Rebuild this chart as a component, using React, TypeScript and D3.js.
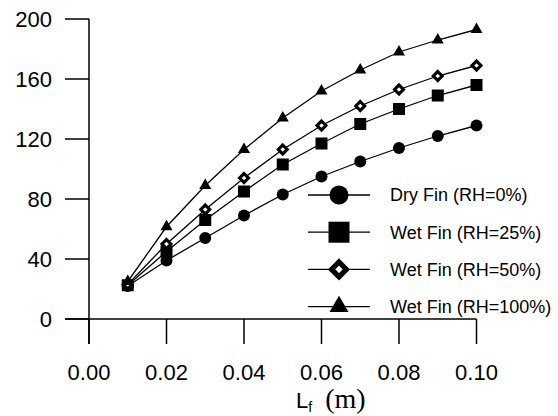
import * as d3 from "d3";

// chart size and margins
const width = 558;
const height = 416;
const marginLeft = 89;
const marginTop = 19;
const plotRight = 476.5;
const plotBottom = 319;

const lengths = [0.01, 0.02, 0.03, 0.04, 0.05, 0.06, 0.07, 0.08, 0.09, 0.1];
const dryFin = [22, 39, 54, 69, 83, 95, 105, 114, 122, 129];
const wetFin25 = [22.5, 45, 66, 85, 103, 117, 130, 140, 149, 156];
const wetFin50 = [23, 50, 73, 94, 113, 129, 142, 153, 162, 169];
const wetFin100 = [25, 61.5, 89, 113, 134, 152, 166, 178, 186, 193];

const xTicks = [0, 0.02, 0.04, 0.06, 0.08, 0.1];
const yTicks = [0, 40, 80, 120, 160, 200];

const seriesNames = ["Dry Fin (RH=0%)", "Wet Fin (RH=25%)", "Wet Fin (RH=50%)", "Wet Fin (RH=100%)"];
const seriesValues = [dryFin, wetFin25, wetFin50, wetFin100];
const seriesMarkers = ["circle", "square", "diamond", "triangle"];

const font = "'Liberation Sans', Arial, sans-serif";

// draws one marker centred at 0,0; s is its rough width
const Marker = ({ kind, s }: { kind: string; s: number }) => {
  if (kind === "circle") return <circle r={s / 2} fill="#000" />;
  if (kind === "square") return <rect x={-s / 2} y={-s / 2} width={s} height={s} fill="#000" />;
  if (kind === "diamond") {
    const h = s / 2 - s * 0.13;
    return (
      <path
        d={`M0,${-h}L${h},0L0,${h}L${-h},0Z`}
        fill="#fff"
        stroke="#000"
        strokeWidth={s * 0.26}
        strokeLinejoin="miter"
      />
    );
  }
  const tri = d3.symbol().type(d3.symbolTriangle).size((s * s * Math.sqrt(3)) / 4)();
  return <path d={tri ?? ""} fill="#000" />;
};

const App = () => {
  const x = d3.scaleLinear().domain([0, 0.1]).range([marginLeft, plotRight]);
  const y = d3.scaleLinear().domain([0, 200]).range([plotBottom, marginTop]);

  const line = d3
    .line<number>()
    .x((_, i) => x(lengths[i]))
    .y((d) => y(d));

  return (
    <svg
      width={width}
      height={height}
      style={{ position: "absolute", left: 0, top: 0, background: "#fff" }}
      fontFamily={font}
    >
      {/* axes */}
      <g stroke="#000" strokeWidth={1.5} fill="none">
        <line x1={marginLeft} x2={marginLeft} y1={marginTop} y2={plotBottom + 25} />
        <line x1={marginLeft - 24} x2={plotRight} y1={plotBottom} y2={plotBottom} />
        {yTicks.map((t) => (
          <line key={t} x1={marginLeft - 24} x2={marginLeft} y1={y(t)} y2={y(t)} />
        ))}
        {xTicks.map((t) => (
          <line key={t} x1={x(t)} x2={x(t)} y1={plotBottom} y2={plotBottom + 25} />
        ))}
      </g>
      <g fontSize={22} fill="#000">
        {yTicks.map((t) => (
          <text key={t} x={52} y={y(t)} dy="0.36em" textAnchor="end">
            {t}
          </text>
        ))}
        {xTicks.map((t) => (
          <text key={t} x={x(t)} y={380} textAnchor="middle">
            {d3.format(".2f")(t)}
          </text>
        ))}
      </g>
      <text x={296} y={408} fontSize={22} fill="#000">
        L
        <tspan fontSize={14} dy={4}>f</tspan>
        <tspan
          dy={-4}
          dx={13}
          fontFamily="'Liberation Serif', 'Times New Roman', serif"
          fontSize={28}
        >
          (m)
        </tspan>
      </text>

      {/* series */}
      {seriesValues.map((vals, k) => (
        <g key={seriesNames[k]}>
          <path d={line(vals) ?? ""} fill="none" stroke="#000" strokeWidth={1.3} />
          {vals.map((v, i) => (
            <g key={i} transform={`translate(${x(lengths[i])},${y(v)})`}>
              <Marker kind={seriesMarkers[k]} s={12} />
            </g>
          ))}
        </g>
      ))}

      {/* legend */}
      {seriesNames.map((name, k) => {
        const ly = 195 + k * 37.2;
        const sizes = [19, 21, 20, 19];
        return (
          <g key={name} transform={`translate(0,${ly})`}>
            <line x1={308} x2={370} stroke="#000" strokeWidth={1.3} />
            <g transform="translate(339,0)">
              <Marker kind={seriesMarkers[k]} s={sizes[k]} />
            </g>
            <text x={390} dy="0.36em" fontSize={18} fill="#000">
              {name}
            </text>
          </g>
        );
      })}
    </svg>
  );
};

export default App;
